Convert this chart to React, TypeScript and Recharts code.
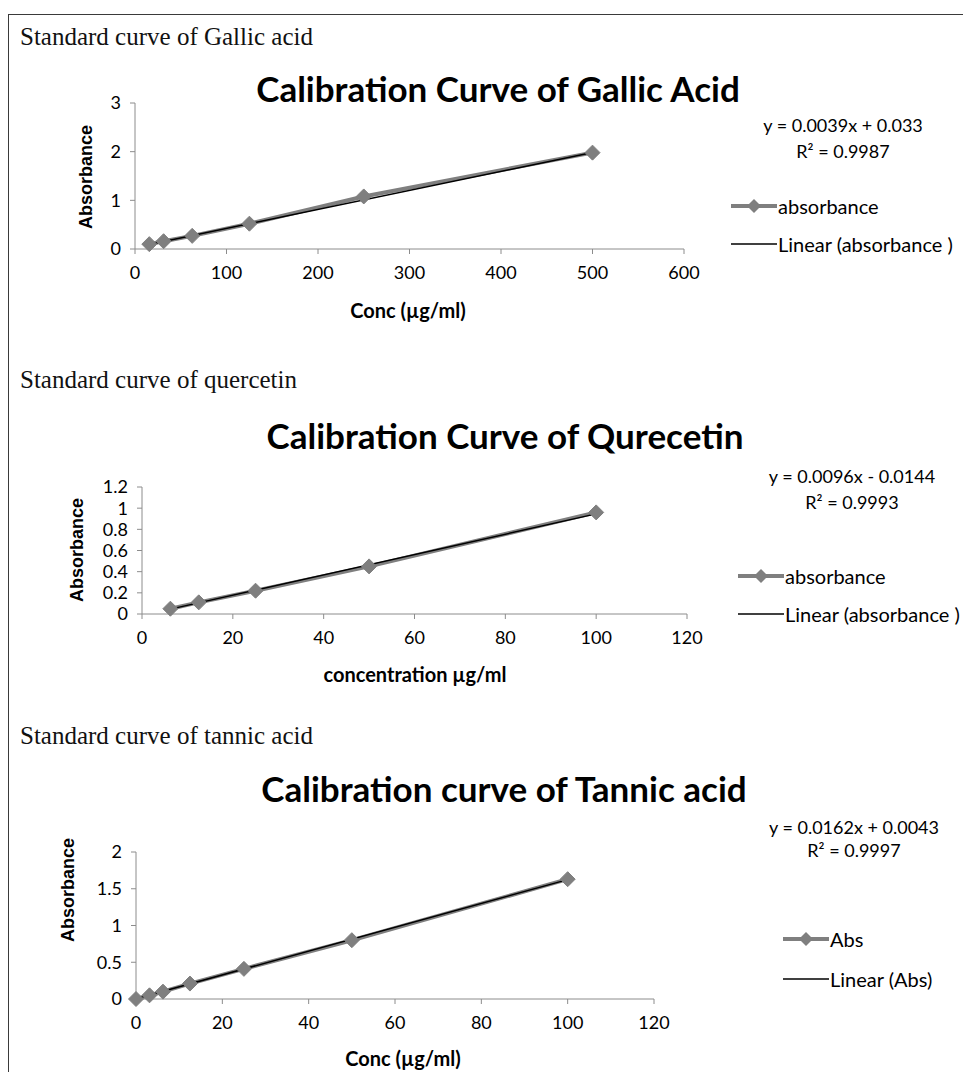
import { LineChart, Line, XAxis, YAxis } from "recharts";

// Gallic acid
const gallicConc = [15.625, 31.25, 62.5, 125, 250, 500];
const gallicAbs = [0.1, 0.16, 0.27, 0.52, 1.08, 1.98];
const gallicTrendConc = [15.625, 500];
const gallicTrendAbs = [0.094, 1.983];
const gallicXTicks = [0, 100, 200, 300, 400, 500, 600];
const gallicYTicks = [0, 1, 2, 3];

// Quercetin
const quercConc = [6.25, 12.5, 25, 50, 100];
const quercAbs = [0.05, 0.11, 0.22, 0.45, 0.96];
const quercTrendConc = [6.25, 100];
const quercTrendAbs = [0.046, 0.946];
const quercXTicks = [0, 20, 40, 60, 80, 100, 120];
const quercYTicks = [0, 0.2, 0.4, 0.6, 0.8, 1, 1.2];

// Tannic acid
const tannicConc = [0, 3.125, 6.25, 12.5, 25, 50, 100];
const tannicAbs = [0, 0.05, 0.1, 0.21, 0.41, 0.8, 1.63];
const tannicTrendConc = [0, 100];
const tannicTrendAbs = [0.004, 1.624];
const tannicXTicks = [0, 20, 40, 60, 80, 100, 120];
const tannicYTicks = [0, 0.5, 1, 1.5, 2];

const zip = (xs: number[], ys: number[]) => xs.map((x, i) => ({ x, y: ys[i] }));

const GRAY = "#7f7f7f";
const SANS = "Lato, 'Open Sans', sans-serif";

const renderDiamond = (props: any) => {
  const { cx, cy, index } = props;
  if (cx == null || cy == null) return <g key={`d-${index}`} />;
  const r = 7.5;
  return (
    <polygon
      key={`d-${index}`}
      points={`${cx},${cy - r} ${cx + r},${cy} ${cx},${cy + r} ${cx - r},${cy}`}
      fill={GRAY}
      stroke={GRAY}
    />
  );
};

type Props = {
  top: number;
  height: number;
  plot: { left: number; right: number; top: number; bottom: number };
  points: { x: number; y: number }[];
  trend: { x: number; y: number }[];
  xTicks: number[];
  yTicks: number[];
};

const CalChart = ({ top, height, plot, points, trend, xTicks, yTicks }: Props) => {
  const yAxisWidth = 50;
  const xAxisHeight = 40;
  const pt = plot.top - top;
  const pb = plot.bottom - top;
  return (
    <div style={{ position: "absolute", left: 0, top, width: 963, height }}>
      <LineChart
        width={963}
        height={height}
        margin={{ top: pt, left: plot.left - yAxisWidth, right: 963 - plot.right, bottom: height - pb - xAxisHeight }}
      >
        <XAxis
          type="number"
          dataKey="x"
          domain={[xTicks[0], xTicks[xTicks.length - 1]]}
          ticks={xTicks}
          interval={0}
          height={xAxisHeight}
          stroke="#8c8c8c"
          tickSize={5}
          tickMargin={12}
          tick={{ fill: "#000", fontSize: 18, fontFamily: SANS }}
        />
        <YAxis
          type="number"
          dataKey="y"
          domain={[yTicks[0], yTicks[yTicks.length - 1]]}
          ticks={yTicks}
          interval={0}
          width={yAxisWidth}
          stroke="#8c8c8c"
          tickSize={5}
          tickMargin={9}
          tick={{ fill: "#000", fontSize: 18, fontFamily: SANS }}
        />
        <Line
          data={points}
          dataKey="y"
          stroke={GRAY}
          strokeWidth={4}
          dot={renderDiamond}
          isAnimationActive={false}
        />
        <Line
          data={trend}
          dataKey="y"
          stroke="#000"
          strokeWidth={1.5}
          dot={false}
          isAnimationActive={false}
        />
      </LineChart>
    </div>
  );
};

const LegendBox = ({ x, y1, y2, seriesName, trendName }: any) => {
  const row = (y: number, marker: boolean, label: string) => (
    <div style={{ position: "absolute", left: x, top: y - 10, display: "flex", alignItems: "center", height: 20 }}>
      <svg width={46} height={20}>
        {marker ? (
          <g>
            <line x1={0} y1={10} x2={46} y2={10} stroke={GRAY} strokeWidth={4} />
            <polygon points="23,3 30,10 23,17 16,10" fill={GRAY} />
          </g>
        ) : (
          <line x1={0} y1={10} x2={46} y2={10} stroke="#000" strokeWidth={1.5} />
        )}
      </svg>
      <span style={{ fontFamily: SANS, fontSize: 20, color: "#000", whiteSpace: "nowrap", marginLeft: 1 }}>{label}</span>
    </div>
  );
  return (
    <>
      {row(y1, true, seriesName)}
      {row(y2, false, trendName)}
    </>
  );
};

const Text = ({ x, y, children, style }: any) => (
  <div
    style={{
      position: "absolute",
      left: x,
      top: y,
      transform: "translate(-50%, -50%)",
      whiteSpace: "nowrap",
      fontFamily: SANS,
      color: "#000",
      ...style,
    }}
  >
    {children}
  </div>
);

const Caption = ({ y, children }: any) => (
  <div
    style={{
      position: "absolute",
      left: 20,
      top: y,
      transform: "translateY(-50%)",
      fontFamily: "'Liberation Serif', 'Times New Roman', serif",
      fontSize: 25,
      color: "#111",
      whiteSpace: "nowrap",
    }}
  >
    {children}
  </div>
);

const titleStyle = { fontSize: 35, fontWeight: 700 };
const eqStyle = { fontSize: 18 };
const yTitleStyle = { fontSize: 18, fontWeight: 700, fontFamily: "'Liberation Sans', Arial, sans-serif", transform: "translate(-50%, -50%) rotate(-90deg)" };
const xTitleStyle = { fontSize: 20, fontWeight: 700 };

export default function App() {
  return (
    <div style={{ position: "absolute", left: 0, top: 0, width: 963, height: 1072, overflow: "hidden", background: "#fff" }}>
      <div style={{ position: "absolute", left: 8, top: 14, width: 1100, height: 1200, border: "1.5px solid #3a3a3a" }} />

      <Caption y={37}>Standard curve of Gallic acid</Caption>
      <Text x={498} y={88} style={titleStyle}>Calibration Curve of Gallic Acid</Text>
      <Text x={843} y={125} style={eqStyle}>y = 0.0039x + 0.033</Text>
      <Text x={843} y={151} style={eqStyle}>R² = 0.9987</Text>
      <Text x={86} y={177} style={yTitleStyle}>Absorbance</Text>
      <Text x={408} y={310} style={xTitleStyle}>Conc (µg/ml)</Text>
      <CalChart
        top={70}
        height={240}
        plot={{ left: 135, right: 684, top: 103, bottom: 249 }}
        points={zip(gallicConc, gallicAbs)}
        trend={zip(gallicTrendConc, gallicTrendAbs)}
        xTicks={gallicXTicks}
        yTicks={gallicYTicks}
      />
      <LegendBox x={731} y1={206} y2={244} seriesName="absorbance" trendName="Linear (absorbance )" />

      <Caption y={380}>Standard curve of quercetin</Caption>
      <Text x={505} y={435} style={titleStyle}>Calibration Curve of Qurecetin</Text>
      <Text x={852} y={476} style={eqStyle}>y = 0.0096x - 0.0144</Text>
      <Text x={852} y={502} style={eqStyle}>R² = 0.9993</Text>
      <Text x={77} y={550} style={yTitleStyle}>Absorbance</Text>
      <Text x={415} y={674} style={xTitleStyle}>concentration µg/ml</Text>
      <CalChart
        top={460}
        height={200}
        plot={{ left: 142, right: 687, top: 487, bottom: 614 }}
        points={zip(quercConc, quercAbs)}
        trend={zip(quercTrendConc, quercTrendAbs)}
        xTicks={quercXTicks}
        yTicks={quercYTicks}
      />
      <LegendBox x={738} y1={576} y2={614} seriesName="absorbance" trendName="Linear (absorbance )" />

      <Caption y={736}>Standard curve of tannic acid</Caption>
      <Text x={504} y={788} style={titleStyle}>Calibration curve of Tannic acid</Text>
      <Text x={854} y={827} style={eqStyle}>y = 0.0162x + 0.0043</Text>
      <Text x={854} y={850} style={eqStyle}>R² = 0.9997</Text>
      <Text x={68} y={890} style={yTitleStyle}>Absorbance</Text>
      <Text x={403} y={1058} style={xTitleStyle}>Conc (µg/ml)</Text>
      <CalChart
        top={820}
        height={225}
        plot={{ left: 136, right: 654, top: 852, bottom: 999 }}
        points={zip(tannicConc, tannicAbs)}
        trend={zip(tannicTrendConc, tannicTrendAbs)}
        xTicks={tannicXTicks}
        yTicks={tannicYTicks}
      />
      <LegendBox x={783} y1={939} y2={979} seriesName="Abs" trendName="Linear (Abs)" />
    </div>
  );
}
